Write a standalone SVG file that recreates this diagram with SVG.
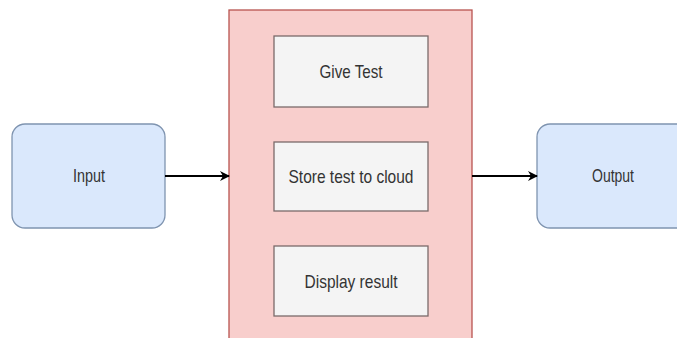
<svg xmlns="http://www.w3.org/2000/svg" width="677" height="338" viewBox="0 0 677 338">
<defs>
<style>
.io{fill:#dae8fc;stroke:#7f94b0;stroke-width:1.3}
.box{fill:#f4f4f4;stroke:#7a6a6a;stroke-width:1.3}
.cont{fill:#f8cecc;stroke:#b85450;stroke-width:1.3}
.t{font-family:"Liberation Sans",Arial,sans-serif;font-size:19px;fill:#333;text-anchor:middle}
.c{stroke:#000;stroke-width:1.8;fill:none}
</style>
<marker id="ah" viewBox="0 0 10 10" refX="9" refY="5" markerWidth="10" markerHeight="10" markerUnits="userSpaceOnUse" orient="auto">
<path d="M0,0 L10,5 L0,10 L3,5 z" fill="#000"/>
</marker>
</defs>
<rect width="677" height="338" fill="#fff"/>
<g id="container"><rect class="cont" x="229" y="10" width="243" height="340"/></g>
<g id="input"><rect class="io" x="12" y="124" width="153" height="104" rx="13"/><text class="t" x="89" y="182" textLength="32" lengthAdjust="spacingAndGlyphs">Input</text></g>
<g id="output"><rect class="io" x="537" y="124" width="153" height="104" rx="13"/><text class="t" x="613" y="182" textLength="42" lengthAdjust="spacingAndGlyphs">Output</text></g>
<g id="givetest"><rect class="box" x="274" y="36" width="154" height="71"/><text class="t" x="351" y="77.5" textLength="63" lengthAdjust="spacingAndGlyphs">Give Test</text></g>
<g id="store"><rect class="box" x="274" y="142" width="154" height="69"/><text class="t" x="351" y="182.5" textLength="125" lengthAdjust="spacingAndGlyphs">Store test to cloud</text></g>
<g id="display"><rect class="box" x="274" y="246" width="154" height="70"/><text class="t" x="351" y="287.5" textLength="93" lengthAdjust="spacingAndGlyphs">Display result</text></g>
<g id="connectors">
<line class="c" x1="165" y1="176" x2="229" y2="176" marker-end="url(#ah)"/>
<line class="c" x1="472" y1="176" x2="537" y2="176" marker-end="url(#ah)"/>
</g>
</svg>
